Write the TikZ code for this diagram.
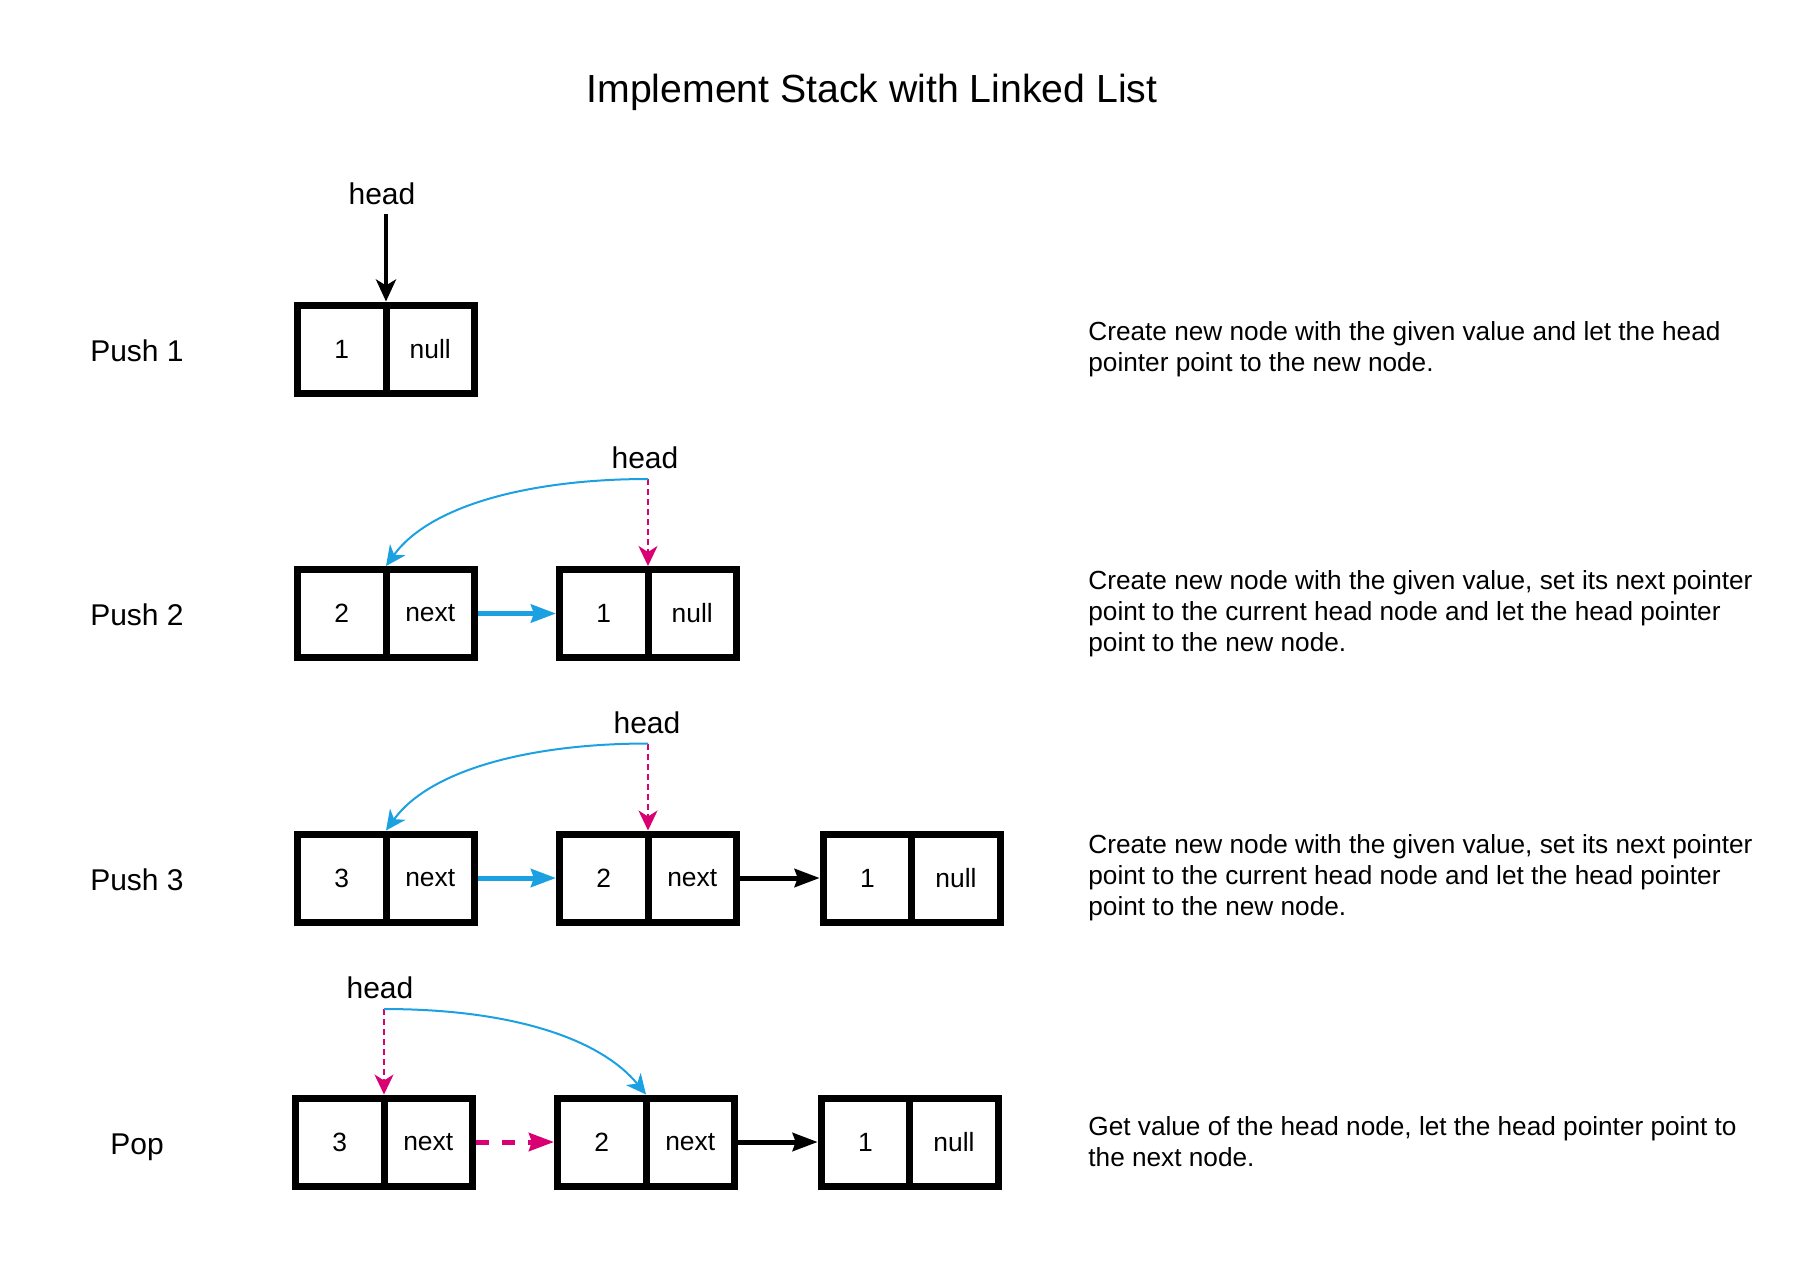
\documentclass[tikz,border=0pt]{standalone}
\usepackage{fontspec}
\setmainfont{Liberation Sans}
\usetikzlibrary{arrows.meta}
\definecolor{linkblue}{HTML}{1BA1E2}
\definecolor{linkpink}{HTML}{D80073}

\begin{document}
\begin{tikzpicture}[x=0.5pt,y=-0.5pt,
    cell/.style={draw,line width=3.5pt,minimum width=44.25pt,minimum height=44pt,inner sep=0pt,
      outer xsep=0pt,outer ysep=1.75pt,font=\fontsize{13.2}{15}\selectfont},
    rowlabel/.style={anchor=base,font=\fontsize{15}{18}\selectfont},
    headlabel/.style={anchor=base,font=\fontsize{15}{18}\selectfont},
    note/.style={anchor=west,align=left,inner sep=0pt,font=\fontsize{13.1}{15.6}\selectfont},
    headptr/.style={-{Stealth[length=10pt,width=9.5pt,inset=3pt]},line width=1pt},
    oldptr/.style={headptr,linkpink,dash pattern=on 3pt off 2pt},
    link/.style={-{Stealth[length=12.5pt,width=9pt,inset=1.5pt]},line width=2.5pt,
      shorten <=1.75pt,shorten >=1.75pt}]
    \useasboundingbox (0,0) rectangle (1806,1266);
    \node[anchor=base,font=\fontsize{19.6}{23}\selectfont] (title) at (872,102) {Implement Stack with Linked List};

    % push 1
    \node[rowlabel] (la) at (137,361) {Push 1};
    \node[cell] (a1v) at (341.75,349) {1};\node[cell] (a1p) at (430.25,349) {null};
    \node[headlabel] (ha) at (382,204) {head};
    \coordinate (hao) at (386,214);
    \draw[line width=2pt,-{Stealth[length=11pt,width=10pt,inset=3pt]}] (hao) -- (a1v.north east);
    \node[note] (na) at (1088,349) {Create new node with the given value and let the head\\pointer point to the new node.};

    % push 2
    \node[rowlabel] (lb) at (137,625.5) {Push 2};
    \node[cell] (b1v) at (341.75,613.5) {2};\node[cell] (b1p) at (430.25,613.5) {next};
    \node[cell] (b2v) at (603.75,613.5) {1};\node[cell] (b2p) at (692.25,613.5) {null};
    \node[headlabel] (hb) at (645,468.5) {head};
    \coordinate (hbo) at (648,479);
    \draw[oldptr] (hbo) -- (b2v.north east);
    \draw[headptr,linkblue] (hbo) .. controls +(-117,0) and +(44,-61) .. (b1v.north east);
    \draw[link,linkblue] (b1p.east) -- (b2v.west);
    \node[note] (nb) at (1088,613.5) {Create new node with the given value, set its next pointer\\point to the current head node and let the head pointer\\point to the new node.};

    % push 3
    \node[rowlabel] (lc) at (137,890) {Push 3};
    \node[cell] (c1v) at (341.75,878) {3};\node[cell] (c1p) at (430.25,878) {next};
    \node[cell] (c2v) at (603.75,878) {2};\node[cell] (c2p) at (692.25,878) {next};
    \node[cell] (c3v) at (867.5,878) {1};\node[cell] (c3p) at (956,878) {null};
    \node[headlabel] (hc) at (647,733) {head};
    \coordinate (hco) at (648,743.5);
    \draw[oldptr] (hco) -- (c2v.north east);
    \draw[headptr,linkblue] (hco) .. controls +(-117,0) and +(44,-61) .. (c1v.north east);
    \draw[link,linkblue] (c1p.east) -- (c2v.west);
    \draw[link] (c2p.east) -- (c3v.west);
    \node[note] (nc) at (1088,878) {Create new node with the given value, set its next pointer\\point to the current head node and let the head pointer\\point to the new node.};

    % pop
    \node[rowlabel] (ld) at (137,1154) {Pop};
    \node[cell] (d1v) at (339.75,1142) {3};\node[cell] (d1p) at (428.25,1142) {next};
    \node[cell] (d2v) at (601.75,1142) {2};\node[cell] (d2p) at (690.25,1142) {next};
    \node[cell] (d3v) at (865.5,1142) {1};\node[cell] (d3p) at (954,1142) {null};
    \node[headlabel] (hd) at (380,998) {head};
    \coordinate (hdo) at (384,1009);
    \draw[oldptr] (hdo) -- (d1v.north east);
    \draw[headptr,linkblue] (hdo) .. controls +(130,0) and +(-45,-55) .. (d2v.north east);
    \draw[link,linkpink,dash pattern=on 6.5pt off 6.5pt] (d1p.east) -- (d2v.west);
    \draw[link] (d2p.east) -- (d3v.west);
    \node[note] (nd) at (1088,1142) {Get value of the head node, let the head pointer point to\\the next node.};
\end{tikzpicture}
\end{document}
